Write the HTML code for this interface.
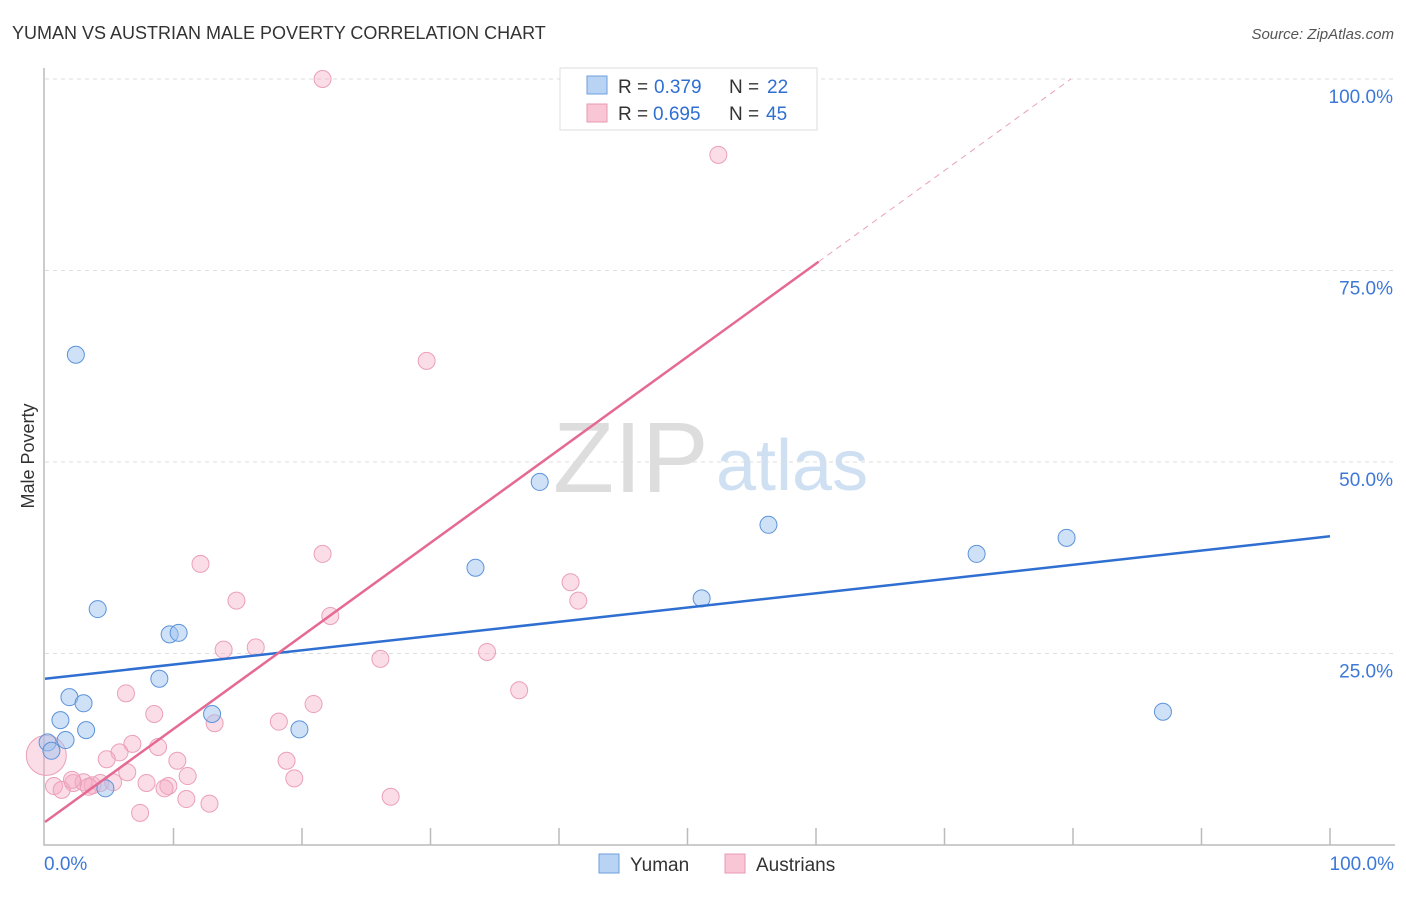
<!DOCTYPE html>
<html><head><meta charset="utf-8"><style>
body{margin:0;background:#fff;font-family:"Liberation Sans",sans-serif}
svg text{font-family:"Liberation Sans",sans-serif}
</style></head><body>
<svg id="c" width="1406" height="892">
<text x="12" y="39" font-size="18" fill="#333">YUMAN VS AUSTRIAN MALE POVERTY CORRELATION CHART</text>
<text x="1394" y="39" font-size="15" fill="#555" font-style="italic" text-anchor="end">Source: ZipAtlas.com</text>
<text x="34" y="456" font-size="18" fill="#333" text-anchor="middle" transform="rotate(-90 34 456)">Male Poverty</text>
<text x="553" y="492" font-size="100" fill="#ddd" font-family="Liberation Serif">ZIP</text>
<text x="716" y="490" font-size="72" fill="#cfe0f3">atlas</text>
<g id="grid"></g><g id="pts"></g><g id="lines"></g>
<g>
<rect x="560" y="68" width="257" height="62" fill="#fff" stroke="#ddd"/>
<rect x="587" y="76" width="20" height="18" fill="#b8d3f3" stroke="#6c9fdc"/>
<rect x="587" y="104" width="20" height="18" fill="#f9c6d5" stroke="#e89ab2"/>
<text x="618" y="93" font-size="19" fill="#333">R =</text>
<text x="654" y="93" font-size="19" fill="#2f6fd1">0.379</text>
<text x="729" y="93" font-size="19" fill="#333">N =</text>
<text x="767" y="93" font-size="19" fill="#2f6fd1">22</text>
<text x="618" y="120" font-size="19" fill="#333">R =</text>
<text x="653" y="120" font-size="19" fill="#2f6fd1">0.695</text>
<text x="729" y="120" font-size="19" fill="#333">N =</text>
<text x="766" y="120" font-size="19" fill="#2f6fd1">45</text>
</g>
<g>
<rect x="599" y="854" width="20" height="19" fill="#b8d3f3" stroke="#6c9fdc"/>
<text x="630" y="871" font-size="19" fill="#333">Yuman</text>
<rect x="725" y="854" width="20" height="19" fill="#f9c6d5" stroke="#e89ab2"/>
<text x="756" y="871" font-size="19" fill="#333">Austrians</text>
</g>
</svg>
<script>
const yTicks=[100,75,50,25];
const yTickLabels=["100.0%","75.0%","50.0%","25.0%"];
const xTickLabels=["0.0%","100.0%"];
const yumanX=[2.4,4.1,9.7,10.4,8.9,1.9,3.0,1.2,3.2,1.6,0.2,0.5,4.7,13.0,19.8,33.5,38.5,51.1,56.3,72.5,79.5,87.0];
const yumanY=[64.0,30.8,27.5,27.7,21.7,19.3,18.5,16.3,15.0,13.7,13.4,12.3,7.4,17.1,15.1,36.2,47.4,32.2,41.8,38.0,40.1,17.4];
const austX=[21.6,52.4,29.7,21.6,12.1,40.9,41.5,14.9,22.2,16.4,13.9,34.4,26.1,36.9,6.3,20.9,8.5,18.2,13.2,6.8,8.8,5.8,4.8,10.3,18.8,6.4,11.1,19.4,7.9,9.6,0.7,2.2,1.3,3.0,3.7,4.3,5.3,9.3,11.0,12.8,26.9,7.4,0.1,2.1,3.4];
const austY=[100.0,90.1,63.2,38.0,36.7,34.3,31.9,31.9,29.9,25.8,25.5,25.2,24.3,20.2,19.8,18.4,17.1,16.1,15.9,13.2,12.8,12.1,11.2,11.0,11.0,9.5,9.0,8.7,8.1,7.7,7.7,8.1,7.2,8.2,7.8,8.1,8.2,7.4,6.0,5.4,6.3,4.2,11.7,8.5,7.6];
const yumanTrend=[21.7,40.3];
const austTrend=[3.0,1.215];
const NS="http://www.w3.org/2000/svg";
const X=v=>45+v*12.85, Y=v=>845-v*7.66;
function mk(tag,attrs,parent){const e=document.createElementNS(NS,tag);for(const k in attrs)e.setAttribute(k,attrs[k]);parent.appendChild(e);return e;}
const grid=document.getElementById('grid'),pts=document.getElementById('pts'),lines=document.getElementById('lines');
yTicks.forEach((t,i)=>{
 const l=mk('line',{x1:45,x2:1395,y1:Y(t),y2:Y(t),stroke:'#ddd','stroke-dasharray':'4 4'},grid);
 
 
 const tx=mk('text',{x:1393,y:Y(t)+24,'font-size':19,fill:'#3d78d8','text-anchor':'end'},grid);
 tx.textContent=yTickLabels[i];
 
 
});
const ax=mk('path',{d:'M44 68V845H1395',fill:'none',stroke:'#bbb','stroke-width':1.5},grid);


for(let i=1;i<=10;i++){const t=mk('line',{x1:X(i*10),x2:X(i*10),y1:828,y2:845,stroke:'#bbb','stroke-width':1.5},grid);
 
 }
[[0,'start',44],[100,'end',1394]].forEach((a,i)=>{const t=mk('text',{x:a[2],y:870,'font-size':19,fill:'#3d78d8','text-anchor':a[1]},grid);t.textContent=xTickLabels[i];
 
 });
austX.forEach((x,i)=>{const c=mk('circle',{cx:X(x),cy:Y(austY[i]),r:i==42?20:8.5,fill:'rgba(245,170,195,0.4)',stroke:'#eba0b8','stroke-width':1},pts);
 
 });
yumanX.forEach((x,i)=>{const c=mk('circle',{cx:X(x),cy:Y(yumanY[i]),r:8.5,fill:'rgba(160,195,240,0.5)',stroke:'#5b93d9','stroke-width':1},pts);
 
 });
const yl=mk('line',{x1:X(0),y1:Y(yumanTrend[0]),x2:X(100),y2:Y(yumanTrend[1]),stroke:'#2f6fd1','stroke-width':2.5},lines);


const xs=60.2, xe=(100-austTrend[0])/austTrend[1];
const al=mk('line',{x1:X(0),y1:Y(austTrend[0]),x2:X(xs),y2:Y(austTrend[0]+austTrend[1]*xs),stroke:'#e56a93','stroke-width':2.5},lines);


const ad=mk('line',{x1:X(xs),y1:Y(austTrend[0]+austTrend[1]*xs),x2:X(xe),y2:Y(100),stroke:'#eba0b8','stroke-width':1,'stroke-dasharray':'6 5'},lines);


</script>
</body></html>
